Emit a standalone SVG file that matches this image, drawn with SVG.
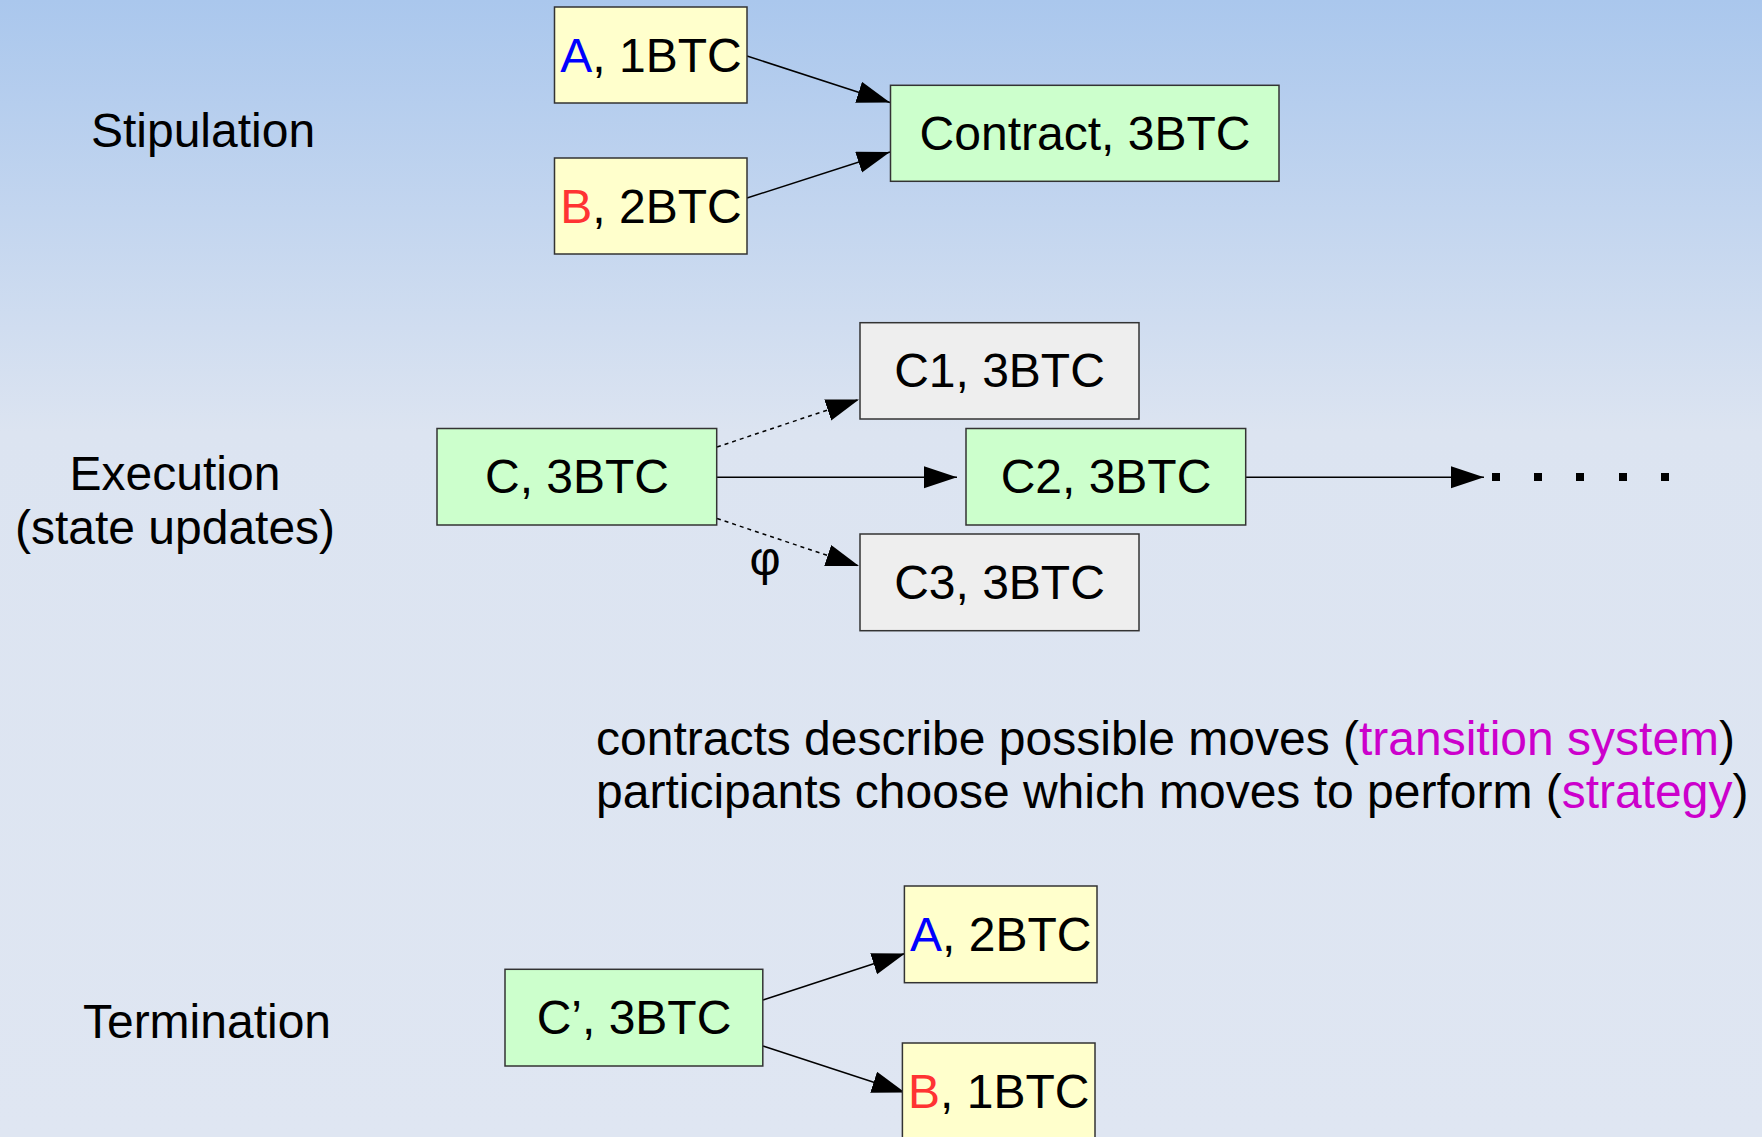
<svg xmlns="http://www.w3.org/2000/svg" width="1762" height="1137" viewBox="0 0 1762 1137">
<defs>
<linearGradient id="bg" x1="0" y1="0" x2="0" y2="1137" gradientUnits="userSpaceOnUse">
<stop offset="0" stop-color="#aac7ed"/>
<stop offset="0.38" stop-color="#dce4f1"/>
<stop offset="1" stop-color="#dfe6f2"/>
</linearGradient>
<marker id="ah" markerUnits="userSpaceOnUse" markerWidth="34" markerHeight="24" refX="33" refY="11" orient="auto">
<path d="M0,0 L33,11 L0,22 z" fill="#000"/>
</marker>
<style>
.box{stroke:#333;stroke-width:1.5}
.y{fill:#ffffcc}
.g{fill:#ccffcc}
.gr{fill:#eeeeee}
.t{font-family:"Liberation Sans",Arial,sans-serif;font-size:48px;fill:#000;text-anchor:middle}
.lbl{font-family:"Liberation Sans",Arial,sans-serif;font-size:48px;fill:#000;text-anchor:middle}
.body{font-family:"Liberation Sans",Arial,sans-serif;font-size:48px;fill:#000}
.blue{fill:#0000ff}
.red{fill:#ff3333}
.mag{fill:#cc00cc}
.c{stroke:#000;stroke-width:1.5;fill:none}
.d{stroke-dasharray:4 4}
</style>
</defs>
<rect width="1762" height="1137" fill="url(#bg)"/>

<g id="labels">
<text class="lbl" x="203" y="147">Stipulation</text>
<text class="lbl" x="175" y="490">Execution</text>
<text class="lbl" x="175" y="544">(state updates)</text>
<text class="lbl" x="207" y="1038">Termination</text>
</g>

<g id="connectors">
<line class="c" x1="747" y1="56" x2="890" y2="102.5" marker-end="url(#ah)"/>
<line class="c" x1="747" y1="198" x2="890" y2="152" marker-end="url(#ah)"/>
<line class="c d" x1="717" y1="447" x2="859" y2="399.5" marker-end="url(#ah)"/>
<line class="c" x1="717" y1="477.3" x2="957" y2="477.3" marker-end="url(#ah)"/>
<line class="c d" x1="717" y1="518.5" x2="859" y2="566" marker-end="url(#ah)"/>
<line class="c" x1="1246" y1="477.3" x2="1484" y2="477.3" marker-end="url(#ah)"/>
<line class="c" x1="763" y1="1000" x2="905" y2="953.5" marker-end="url(#ah)"/>
<line class="c" x1="763" y1="1046" x2="905" y2="1092.5" marker-end="url(#ah)"/>
<g id="ellipsis" fill="#000">
<rect x="1492" y="473" width="8" height="8"/>
<rect x="1534" y="473" width="8" height="8"/>
<rect x="1576" y="473" width="8" height="8"/>
<rect x="1619" y="473" width="8" height="8"/>
<rect x="1661" y="473" width="8" height="8"/>
</g>
<text class="body" x="765" y="575" text-anchor="middle">φ</text>
</g>

<g id="nodeA1">
<rect class="box y" x="554.5" y="7" width="192.5" height="96"/>
<text class="t" x="651" y="72"><tspan class="blue">A</tspan>, 1BTC</text>
</g>
<g id="nodeB2">
<rect class="box y" x="554.5" y="158" width="192.5" height="96"/>
<text class="t" x="651" y="223"><tspan class="red">B</tspan>, 2BTC</text>
</g>
<g id="nodeContract">
<rect class="box g" x="890.5" y="85.3" width="388.5" height="96"/>
<text class="t" x="1085" y="149.5">Contract, 3BTC</text>
</g>

<g id="nodeC">
<rect class="box g" x="437" y="428.5" width="279.7" height="96.5"/>
<text class="t" x="577" y="493">C, 3BTC</text>
</g>
<g id="nodeC1">
<rect class="box gr" x="860" y="322.7" width="279" height="96.3"/>
<text class="t" x="999.5" y="387">C1, 3BTC</text>
</g>
<g id="nodeC2">
<rect class="box g" x="966" y="428.5" width="279.7" height="96.5"/>
<text class="t" x="1106" y="493">C2, 3BTC</text>
</g>
<g id="nodeC3">
<rect class="box gr" x="860" y="534" width="279" height="96.7"/>
<text class="t" x="999.5" y="599">C3, 3BTC</text>
</g>

<g id="note">
<text class="body" x="596" y="755">contracts describe possible moves (<tspan class="mag">transition system</tspan>)</text>
<text class="body" x="596" y="808">participants choose which moves to perform (<tspan class="mag">strategy</tspan>)</text>
</g>

<g id="nodeCprime">
<rect class="box g" x="505" y="969.3" width="257.8" height="96.7"/>
<text class="t" x="634" y="1034">C’, 3BTC</text>
</g>
<g id="nodeA2">
<rect class="box y" x="904.4" y="886" width="192.6" height="96.7"/>
<text class="t" x="1000.7" y="951"><tspan class="blue">A</tspan>, 2BTC</text>
</g>
<g id="nodeB1">
<rect class="box y" x="902.4" y="1043" width="192.6" height="96.7"/>
<text class="t" x="998.7" y="1108"><tspan class="red">B</tspan>, 1BTC</text>
</g>
</svg>
